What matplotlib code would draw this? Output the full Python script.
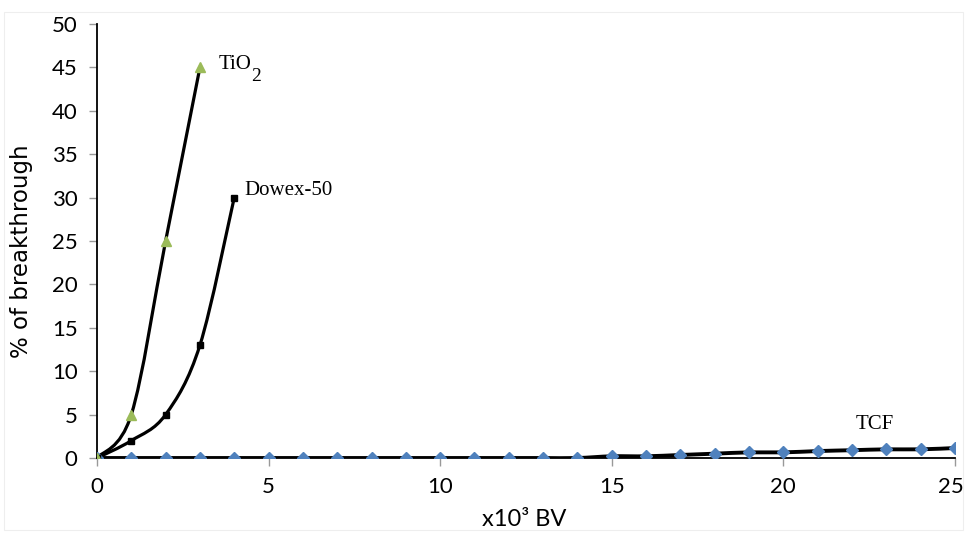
#!/usr/bin/env python3
"""Breakthrough curves: TiO2, Dowex-50 and TCF vs bed volumes (x10^3 BV)."""
import matplotlib
matplotlib.use("Agg")
import matplotlib.pyplot as plt
import matplotlib.transforms as mtransforms
from matplotlib.path import Path
from matplotlib.patches import PathPatch, Rectangle

# ---- data ------------------------------------------------------------------
TIO2_X = [0, 1, 2, 3]
TIO2_Y = [0, 5, 25, 45]

DOWEX_X = [0, 1, 2, 3, 4]
DOWEX_Y = [0, 2, 5, 13, 30]

TCF_X = list(range(0, 26))
TCF_Y = [0] * 15 + [0.2, 0.2, 0.35, 0.5, 0.65, 0.65, 0.8, 0.9, 1.0, 1.0, 1.15]

X_TICKS = [0, 5, 10, 15, 20, 25]
Y_TICKS = [0, 5, 10, 15, 20, 25, 30, 35, 40, 45, 50]

TICK_FONT = "Lato"
LABEL_FONT = "DejaVu Sans"
SERIF_FONT = "Liberation Serif"


def smooth_path(xs, ys, tension=1 / 6):
    """Catmull-Rom style smoothed path (like a spreadsheet 'smoothed line')."""
    verts = [(xs[0], ys[0])]
    codes = [Path.MOVETO]
    n = len(xs)
    for i in range(n - 1):
        p0 = (xs[max(i - 1, 0)], ys[max(i - 1, 0)])
        p1 = (xs[i], ys[i])
        p2 = (xs[i + 1], ys[i + 1])
        p3 = (xs[min(i + 2, n - 1)], ys[min(i + 2, n - 1)])
        c1 = (p1[0] + (p2[0] - p0[0]) * tension, p1[1] + (p2[1] - p0[1]) * tension)
        c2 = (p2[0] - (p3[0] - p1[0]) * tension, p2[1] - (p3[1] - p1[1]) * tension)
        verts += [c1, c2, p2]
        codes += [Path.CURVE4] * 3
    return Path(verts, codes)


fig = plt.figure(figsize=(9.65, 5.34), dpi=100)
# faint outer frame as in the reference
fig.patches.append(Rectangle((0.004, 0.008), 0.994, 0.97, transform=fig.transFigure,
                             fill=False, lw=0.8, ec="#eeeeee"))
ax = fig.add_axes([0.1005, 0.1423, 0.889, 0.8127])

# lines
ax.add_patch(PathPatch(smooth_path(TCF_X, TCF_Y), fill=False, lw=2.8,
                       color="black", zorder=2))
ax.add_patch(PathPatch(smooth_path(DOWEX_X, DOWEX_Y), fill=False, lw=2.3,
                       color="black", zorder=3))
ax.add_patch(PathPatch(smooth_path(TIO2_X, TIO2_Y), fill=False, lw=2.3,
                       color="black", zorder=4))

# markers
ax.plot(TCF_X, TCF_Y, ls="none", marker="D", ms=5.8, color="#4F81BD", zorder=5)
ax.plot(DOWEX_X, DOWEX_Y, ls="none", marker="s", ms=5, color="black", zorder=5)
ax.plot(TIO2_X, TIO2_Y, ls="none", marker="^", ms=6.5, color="#9BBB59",
        markeredgecolor="#9BBB59", zorder=6)

# labels on curves
ax.text(3.55, 45.3, "TiO", family=SERIF_FONT, fontsize=15, ha="left", va="center")
ax.text(4.5, 44.0, "2", family=SERIF_FONT, fontsize=14, ha="left", va="center")
ax.text(4.3, 30.8, "Dowex-50", family=SERIF_FONT, fontsize=15, ha="left", va="center")
ax.text(22.1, 3.9, "TCF", family=SERIF_FONT, fontsize=15, ha="left", va="center")

ax.set_xlim(0, 25)
ax.set_ylim(0, 50)
ax.set_xticks(X_TICKS)
ax.set_yticks(Y_TICKS)
for lab in ax.get_xticklabels() + ax.get_yticklabels():
    lab.set_family(TICK_FONT)
    lab.set_fontsize(16)
ax.tick_params(direction="out", length=6, width=1, color="#999999")
ax.tick_params(axis="y", pad=8)
ax.tick_params(axis="x", pad=8)
# keep the last x label inside the canvas
last = ax.get_xticklabels()[-1]
last.set_transform(last.get_transform() +
                   mtransforms.ScaledTranslation(-4 / 100, 0, fig.dpi_scale_trans))

for s in ("top", "right"):
    ax.spines[s].set_visible(False)
for s in ("left", "bottom"):
    ax.spines[s].set_linewidth(1.3)
    ax.spines[s].set_color("black")

ax.set_xlabel("x10³ BV", family=TICK_FONT, fontsize=17)
ax.xaxis.set_label_coords(0.498, -0.118)
ax.set_ylabel("% of breakthrough", family=LABEL_FONT, fontsize=16.5)
ax.yaxis.set_label_coords(-0.075, 0.477)

fig.savefig("out.png", dpi=100)
